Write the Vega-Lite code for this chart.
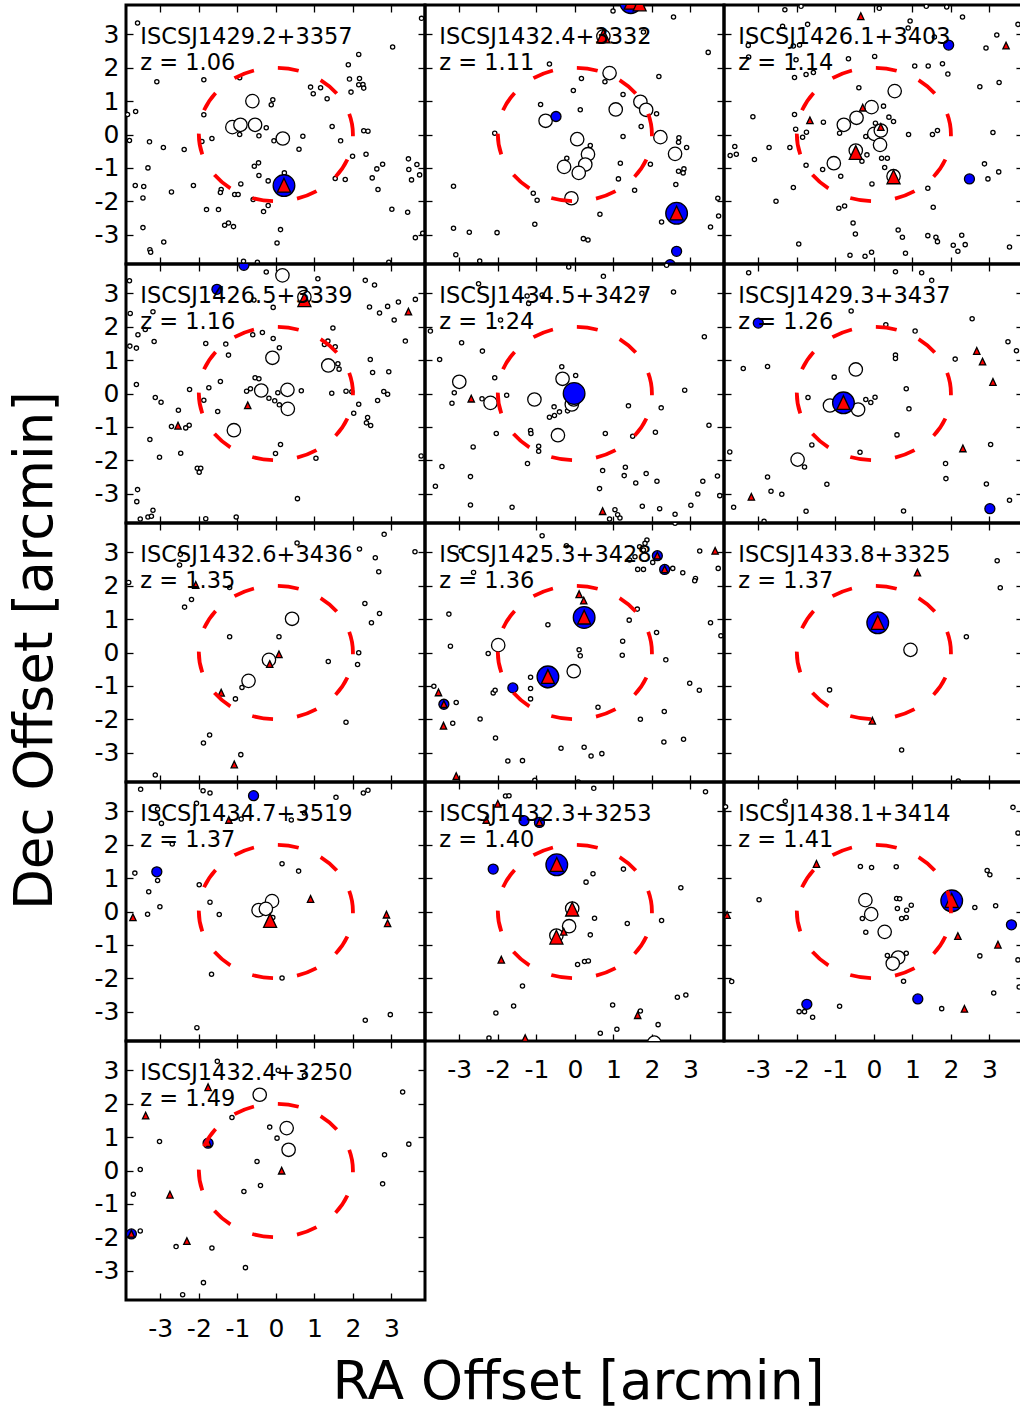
{
"$schema": "https://vega.github.io/schema/vega-lite/v6.json",
"background": "white",
"padding": {"left": 7, "top": 2, "right": 0, "bottom": 0},
"bounds": "flush",
"spacing": 0,
"columns": 3,
"datasets": {
"labels": [
{"p":1,"label":"ISCSJ1429.2+3357\nz = 1.06"},{"p":2,"label":"ISCSJ1432.4+3332\nz = 1.11"},{"p":3,"label":"ISCSJ1426.1+3403\nz = 1.14"},
{"p":4,"label":"ISCSJ1426.5+3339\nz = 1.16"},{"p":5,"label":"ISCSJ1434.5+3427\nz = 1.24"},{"p":6,"label":"ISCSJ1429.3+3437\nz = 1.26"},
{"p":7,"label":"ISCSJ1432.6+3436\nz = 1.35"},{"p":8,"label":"ISCSJ1425.3+3428\nz = 1.36"},{"p":9,"label":"ISCSJ1433.8+3325\nz = 1.37"},
{"p":10,"label":"ISCSJ1434.7+3519\nz = 1.37"},{"p":11,"label":"ISCSJ1432.3+3253\nz = 1.40"},{"p":12,"label":"ISCSJ1438.1+3414\nz = 1.41"},
{"p":13,"label":"ISCSJ1432.4+3250\nz = 1.49"}
],
"pts": [
{"p":1,"t":"1gal","x":-3.59,"y":3.34},{"p":1,"t":"1gal","x":3.78,"y":3.48},{"p":1,"t":"1gal","x":3.03,"y":2.62},{"p":1,"t":"1gal","x":2.15,"y":2.40},{"p":1,"t":"1gal","x":1.88,"y":2.09},{"p":1,"t":"1gal","x":-3.09,"y":1.58},{"p":1,"t":"1gal","x":-1.87,"y":1.64},{"p":1,"t":"1gal","x":-0.94,"y":1.70},{"p":1,"t":"1gal","x":1.91,"y":1.66},{"p":1,"t":"1gal","x":2.17,"y":1.68},
{"p":1,"t":"1gal","x":2.15,"y":1.49},{"p":1,"t":"1gal","x":2.26,"y":1.50},{"p":1,"t":"1gal","x":2.28,"y":1.39},{"p":1,"t":"1gal","x":1.95,"y":1.27},{"p":1,"t":"1gal","x":0.90,"y":1.42},{"p":1,"t":"1gal","x":0.97,"y":1.22},{"p":1,"t":"1gal","x":1.16,"y":1.40},{"p":1,"t":"1gal","x":1.33,"y":1.07},{"p":1,"t":"1gal","x":-0.08,"y":1.04},{"p":1,"t":"1gal","x":-0.12,"y":0.89},
{"p":1,"t":"1gal","x":-1.87,"y":0.59},{"p":1,"t":"1gal","x":-3.85,"y":0.60},{"p":1,"t":"1gal","x":-3.64,"y":0.69},{"p":1,"t":"1gal","x":-0.25,"y":0.20},{"p":1,"t":"1gal","x":-0.94,"y":0.00},{"p":1,"t":"1gal","x":-0.44,"y":-0.04},{"p":1,"t":"1gal","x":1.46,"y":0.24},{"p":1,"t":"1gal","x":2.28,"y":0.11},{"p":1,"t":"1gal","x":2.39,"y":0.10},{"p":1,"t":"1gal","x":-3.80,"y":-0.18},
{"p":1,"t":"1gal","x":-3.28,"y":-0.22},{"p":1,"t":"1gal","x":-2.92,"y":-0.39},{"p":1,"t":"1gal","x":-2.38,"y":-0.45},{"p":1,"t":"1gal","x":-1.92,"y":-0.21},{"p":1,"t":"1gal","x":-1.66,"y":-0.12},{"p":1,"t":"1gal","x":-0.05,"y":-0.19},{"p":1,"t":"1gal","x":0.70,"y":-0.05},{"p":1,"t":"1gal","x":0.60,"y":-0.44},{"p":1,"t":"1gal","x":1.68,"y":-0.19},{"p":1,"t":"1gal","x":1.99,"y":-0.65},
{"p":1,"t":"1gal","x":2.34,"y":-0.59},{"p":1,"t":"1gal","x":3.44,"y":-0.73},{"p":1,"t":"1gal","x":3.66,"y":-0.90},{"p":1,"t":"1gal","x":3.45,"y":-1.05},{"p":1,"t":"1gal","x":3.73,"y":-1.21},{"p":1,"t":"1gal","x":3.52,"y":-1.36},{"p":1,"t":"1gal","x":2.62,"y":-1.03},{"p":1,"t":"1gal","x":2.77,"y":-0.89},{"p":1,"t":"1gal","x":2.50,"y":-1.30},{"p":1,"t":"1gal","x":2.65,"y":-1.65},
{"p":1,"t":"1gal","x":1.54,"y":-1.32},{"p":1,"t":"1gal","x":1.80,"y":-1.35},{"p":1,"t":"1gal","x":-0.45,"y":-0.85},{"p":1,"t":"1gal","x":-0.56,"y":-0.95},{"p":1,"t":"1gal","x":-0.44,"y":-1.23},{"p":1,"t":"1gal","x":-0.20,"y":-1.39},{"p":1,"t":"1gal","x":0.22,"y":-1.15},{"p":1,"t":"1gal","x":-0.91,"y":-1.48},{"p":1,"t":"1gal","x":-1.42,"y":-1.65},{"p":1,"t":"1gal","x":-1.44,"y":-1.74},
{"p":1,"t":"1gal","x":-1.07,"y":-1.80},{"p":1,"t":"1gal","x":-0.98,"y":-1.80},{"p":1,"t":"1gal","x":-2.14,"y":-1.53},{"p":1,"t":"1gal","x":-2.71,"y":-1.72},{"p":1,"t":"1gal","x":-3.43,"y":-1.56},{"p":1,"t":"1gal","x":-3.65,"y":-1.53},{"p":1,"t":"1gal","x":-3.32,"y":-1.00},{"p":1,"t":"1gal","x":-3.45,"y":-1.90},{"p":1,"t":"1gal","x":-0.59,"y":-1.95},{"p":1,"t":"1gal","x":-0.20,"y":-2.13},
{"p":1,"t":"1gal","x":-0.32,"y":-2.31},{"p":1,"t":"1gal","x":-1.80,"y":-2.25},{"p":1,"t":"1gal","x":-1.49,"y":-2.25},{"p":1,"t":"1gal","x":-1.33,"y":-2.72},{"p":1,"t":"1gal","x":-1.23,"y":-2.65},{"p":1,"t":"1gal","x":-1.10,"y":-2.76},{"p":1,"t":"1gal","x":-3.45,"y":-2.79},{"p":1,"t":"1gal","x":-2.91,"y":-3.22},{"p":1,"t":"1gal","x":-3.27,"y":-3.45},{"p":1,"t":"1gal","x":-3.25,"y":-3.53},
{"p":1,"t":"1gal","x":0.12,"y":-2.85},{"p":1,"t":"1gal","x":0.03,"y":-3.25},{"p":1,"t":"1gal","x":3.01,"y":-2.24},{"p":1,"t":"1gal","x":3.42,"y":-2.33},{"p":1,"t":"1gal","x":3.81,"y":-2.96},{"p":1,"t":"1gal","x":3.62,"y":-3.09},{"p":1,"t":"1gal","x":-0.84,"y":-3.80},{"p":1,"t":"1gal","x":-0.48,"y":-3.83},{"p":1,"t":"1gal","x":2.93,"y":-3.83},
{"p":1,"t":"2mem","x":-0.61,"y":1.00},{"p":1,"t":"2mem","x":-1.13,"y":0.22},{"p":1,"t":"2mem","x":-0.92,"y":0.29},{"p":1,"t":"2mem","x":-0.54,"y":0.29},{"p":1,"t":"2mem","x":0.18,"y":-0.12},
{"p":1,"t":"4Blue","x":0.21,"y":-1.53},{"p":1,"t":"6Tri","x":0.21,"y":-1.53},

{"p":2,"t":"1gal","x":0.99,"y":3.70},{"p":2,"t":"1gal","x":2.56,"y":3.52},{"p":2,"t":"1gal","x":3.46,"y":2.46},{"p":2,"t":"1gal","x":-0.66,"y":2.11},{"p":2,"t":"1gal","x":0.17,"y":1.68},{"p":2,"t":"1gal","x":0.78,"y":1.58},{"p":2,"t":"1gal","x":2.18,"y":1.74},{"p":2,"t":"1gal","x":-0.04,"y":1.32},{"p":2,"t":"1gal","x":1.25,"y":1.20},{"p":2,"t":"1gal","x":-0.89,"y":0.90},
{"p":2,"t":"1gal","x":0.14,"y":0.74},{"p":2,"t":"1gal","x":2.12,"y":0.62},{"p":2,"t":"1gal","x":1.72,"y":0.24},{"p":2,"t":"1gal","x":-2.08,"y":0.04},{"p":2,"t":"1gal","x":1.25,"y":-0.06},{"p":2,"t":"1gal","x":2.70,"y":-0.10},{"p":2,"t":"1gal","x":2.69,"y":-0.23},{"p":2,"t":"1gal","x":2.90,"y":-0.39},{"p":2,"t":"1gal","x":0.40,"y":-0.33},{"p":2,"t":"1gal","x":-0.21,"y":-0.71},
{"p":2,"t":"1gal","x":1.18,"y":-0.86},{"p":2,"t":"1gal","x":1.96,"y":-0.89},{"p":2,"t":"1gal","x":2.69,"y":-1.10},{"p":2,"t":"1gal","x":2.83,"y":-1.03},{"p":2,"t":"1gal","x":2.81,"y":-1.15},{"p":2,"t":"1gal","x":1.13,"y":-1.33},{"p":2,"t":"1gal","x":2.62,"y":-1.50},{"p":2,"t":"1gal","x":1.55,"y":-1.67},{"p":2,"t":"1gal","x":-1.08,"y":-1.76},{"p":2,"t":"1gal","x":-0.98,"y":-1.97},
{"p":2,"t":"1gal","x":3.71,"y":-1.91},{"p":2,"t":"1gal","x":3.73,"y":-2.44},{"p":2,"t":"1gal","x":-3.15,"y":-1.55},{"p":2,"t":"1gal","x":0.65,"y":-2.39},{"p":2,"t":"1gal","x":2.25,"y":-2.62},{"p":2,"t":"1gal","x":3.52,"y":-2.77},{"p":2,"t":"1gal","x":-1.04,"y":-2.69},{"p":2,"t":"1gal","x":-3.15,"y":-2.81},{"p":2,"t":"1gal","x":-2.74,"y":-2.93},{"p":2,"t":"1gal","x":-2.02,"y":-2.94},
{"p":2,"t":"1gal","x":0.22,"y":-3.12},{"p":2,"t":"1gal","x":0.34,"y":-3.16},{"p":2,"t":"1gal","x":-3.09,"y":-3.60},{"p":2,"t":"1gal","x":-2.47,"y":-3.79},{"p":2,"t":"1gal","x":1.78,"y":3.07},
{"p":2,"t":"2mem","x":0.90,"y":1.84},{"p":2,"t":"2mem","x":1.70,"y":0.98},{"p":2,"t":"2mem","x":1.85,"y":0.74},{"p":2,"t":"2mem","x":1.06,"y":0.75},{"p":2,"t":"2mem","x":-0.76,"y":0.41},{"p":2,"t":"2mem","x":0.06,"y":-0.14},{"p":2,"t":"2mem","x":0.34,"y":-0.59},{"p":2,"t":"2mem","x":0.27,"y":-0.90},{"p":2,"t":"2mem","x":-0.28,"y":-0.97},{"p":2,"t":"2mem","x":0.10,"y":-1.15},
{"p":2,"t":"2mem","x":2.22,"y":-0.08},{"p":2,"t":"2mem","x":2.60,"y":-0.58},{"p":2,"t":"2mem","x":-0.09,"y":-1.91},{"p":2,"t":"2mem","x":0.74,"y":2.94},
{"p":2,"t":"3blue","x":-0.49,"y":0.54},{"p":2,"t":"3blue","x":2.64,"y":-3.50},{"p":2,"t":"3blue","x":2.47,"y":-3.90},
{"p":2,"t":"4Blue","x":2.64,"y":-2.36},{"p":2,"t":"4Blue","x":1.45,"y":3.95},
{"p":2,"t":"6Tri","x":2.64,"y":-2.36},{"p":2,"t":"6Tri","x":1.45,"y":3.95},{"p":2,"t":"6Tri","x":1.68,"y":3.90},{"p":2,"t":"6Tri","x":0.74,"y":2.94},

{"p":3,"t":"1gal","x":-2.31,"y":3.74},{"p":3,"t":"1gal","x":-1.89,"y":3.84},{"p":3,"t":"1gal","x":0.14,"y":3.78},{"p":3,"t":"1gal","x":1.36,"y":3.84},{"p":3,"t":"1gal","x":1.89,"y":3.82},{"p":3,"t":"1gal","x":2.30,"y":3.52},{"p":3,"t":"1gal","x":3.74,"y":3.30},{"p":3,"t":"1gal","x":0.94,"y":3.40},{"p":3,"t":"1gal","x":0.89,"y":3.19},{"p":3,"t":"1gal","x":-2.37,"y":3.24},
{"p":3,"t":"1gal","x":-1.72,"y":3.30},{"p":3,"t":"1gal","x":-3.26,"y":2.67},{"p":3,"t":"1gal","x":-2.09,"y":2.65},{"p":3,"t":"1gal","x":-1.93,"y":2.68},{"p":3,"t":"1gal","x":-3.25,"y":2.32},{"p":3,"t":"1gal","x":-2.02,"y":2.24},{"p":3,"t":"1gal","x":-0.66,"y":2.27},{"p":3,"t":"1gal","x":0.02,"y":2.34},{"p":3,"t":"1gal","x":1.57,"y":2.92},{"p":3,"t":"1gal","x":3.19,"y":2.98},
{"p":3,"t":"1gal","x":2.91,"y":2.59},{"p":3,"t":"1gal","x":1.06,"y":2.05},{"p":3,"t":"1gal","x":1.41,"y":2.05},{"p":3,"t":"1gal","x":1.78,"y":2.12},{"p":3,"t":"1gal","x":1.92,"y":1.81},{"p":3,"t":"1gal","x":-2.06,"y":1.71},{"p":3,"t":"1gal","x":-1.76,"y":1.80},{"p":3,"t":"1gal","x":-1.57,"y":1.86},{"p":3,"t":"1gal","x":-0.39,"y":1.40},{"p":3,"t":"1gal","x":2.75,"y":1.43},
{"p":3,"t":"1gal","x":3.25,"y":1.56},{"p":3,"t":"1gal","x":0.25,"y":0.85},{"p":3,"t":"1gal","x":-2.06,"y":0.60},{"p":3,"t":"1gal","x":-3.14,"y":0.53},{"p":3,"t":"1gal","x":-1.31,"y":0.37},{"p":3,"t":"1gal","x":-2.03,"y":0.16},{"p":3,"t":"1gal","x":-1.75,"y":0.07},{"p":3,"t":"1gal","x":-1.85,"y":-0.08},{"p":3,"t":"1gal","x":-0.89,"y":0.04},{"p":3,"t":"1gal","x":0.39,"y":0.52},
{"p":3,"t":"1gal","x":0.51,"y":0.39},{"p":3,"t":"1gal","x":0.04,"y":0.34},{"p":3,"t":"1gal","x":-0.21,"y":-0.06},{"p":3,"t":"1gal","x":0.90,"y":0.00},{"p":3,"t":"1gal","x":1.52,"y":0.00},{"p":3,"t":"1gal","x":1.65,"y":0.12},{"p":3,"t":"1gal","x":3.09,"y":0.06},{"p":3,"t":"1gal","x":-2.72,"y":-0.39},{"p":3,"t":"1gal","x":-2.18,"y":-0.39},{"p":3,"t":"1gal","x":-3.61,"y":-0.36},
{"p":3,"t":"1gal","x":-3.57,"y":-0.59},{"p":3,"t":"1gal","x":-3.73,"y":-0.63},{"p":3,"t":"1gal","x":-3.10,"y":-0.75},{"p":3,"t":"1gal","x":-1.76,"y":-0.92},{"p":3,"t":"1gal","x":-1.33,"y":-1.05},{"p":3,"t":"1gal","x":-0.86,"y":-1.25},{"p":3,"t":"1gal","x":-0.18,"y":-0.61},{"p":3,"t":"1gal","x":-0.31,"y":-0.80},{"p":3,"t":"1gal","x":0.20,"y":-0.71},{"p":3,"t":"1gal","x":0.35,"y":-0.71},
{"p":3,"t":"1gal","x":0.28,"y":-0.99},{"p":3,"t":"1gal","x":-0.05,"y":-1.48},{"p":3,"t":"1gal","x":1.40,"y":-1.61},{"p":3,"t":"1gal","x":2.87,"y":-0.88},{"p":3,"t":"1gal","x":3.24,"y":-1.12},{"p":3,"t":"1gal","x":2.96,"y":-1.33},{"p":3,"t":"1gal","x":-2.09,"y":-1.59},{"p":3,"t":"1gal","x":-2.54,"y":-2.00},{"p":3,"t":"1gal","x":-0.91,"y":-2.21},{"p":3,"t":"1gal","x":-0.76,"y":-2.14},
{"p":3,"t":"1gal","x":1.54,"y":-2.18},{"p":3,"t":"1gal","x":-0.54,"y":-2.65},{"p":3,"t":"1gal","x":-0.48,"y":-2.98},{"p":3,"t":"1gal","x":0.63,"y":-2.86},{"p":3,"t":"1gal","x":0.74,"y":-3.08},{"p":3,"t":"1gal","x":1.40,"y":-3.03},{"p":3,"t":"1gal","x":1.61,"y":-3.08},{"p":3,"t":"1gal","x":1.65,"y":-3.21},{"p":3,"t":"1gal","x":2.28,"y":-3.02},{"p":3,"t":"1gal","x":2.06,"y":-3.32},
{"p":3,"t":"1gal","x":2.18,"y":-3.50},{"p":3,"t":"1gal","x":2.37,"y":-3.30},{"p":3,"t":"1gal","x":3.52,"y":-3.37},{"p":3,"t":"1gal","x":-1.95,"y":-3.28},{"p":3,"t":"1gal","x":-0.62,"y":-3.62},{"p":3,"t":"1gal","x":-0.23,"y":-3.65},{"p":3,"t":"1gal","x":-0.06,"y":-3.53},{"p":3,"t":"1gal","x":0.82,"y":-3.56},
{"p":3,"t":"2mem","x":0.54,"y":1.30},{"p":3,"t":"2mem","x":-0.06,"y":0.82},{"p":3,"t":"2mem","x":-0.45,"y":0.50},{"p":3,"t":"2mem","x":-0.78,"y":0.29},{"p":3,"t":"2mem","x":0.01,"y":0.02},{"p":3,"t":"2mem","x":0.18,"y":0.12},{"p":3,"t":"2mem","x":0.16,"y":-0.31},{"p":3,"t":"2mem","x":-1.04,"y":-0.86},{"p":3,"t":"2mem","x":-0.47,"y":-0.48},{"p":3,"t":"2mem","x":0.51,"y":-1.25},
{"p":3,"t":"5tri","x":-0.34,"y":3.54},{"p":3,"t":"5tri","x":3.43,"y":2.66},{"p":3,"t":"5tri","x":-1.66,"y":0.42},{"p":3,"t":"5tri","x":-0.29,"y":0.80},{"p":3,"t":"5tri","x":0.18,"y":0.22},
{"p":3,"t":"6Tri","x":-0.47,"y":-0.55},{"p":3,"t":"6Tri","x":0.51,"y":-1.28},
{"p":3,"t":"3blue","x":1.94,"y":2.68},{"p":3,"t":"3blue","x":2.48,"y":-1.33},

{"p":4,"t":"1gal","x":-3.80,"y":3.38},{"p":4,"t":"1gal","x":-0.25,"y":3.64},{"p":4,"t":"1gal","x":1.09,"y":3.44},{"p":4,"t":"1gal","x":2.32,"y":3.39},{"p":4,"t":"1gal","x":2.56,"y":3.25},{"p":4,"t":"1gal","x":-0.57,"y":2.80},{"p":4,"t":"1gal","x":-0.07,"y":2.58},{"p":4,"t":"1gal","x":-3.78,"y":2.40},{"p":4,"t":"1gal","x":-3.19,"y":2.45},{"p":4,"t":"1gal","x":2.43,"y":2.59},
{"p":4,"t":"1gal","x":2.69,"y":2.41},{"p":4,"t":"1gal","x":2.90,"y":2.61},{"p":4,"t":"1gal","x":3.18,"y":2.74},{"p":4,"t":"1gal","x":3.62,"y":2.82},{"p":4,"t":"1gal","x":3.07,"y":2.20},{"p":4,"t":"1gal","x":-3.58,"y":1.76},{"p":4,"t":"1gal","x":-3.39,"y":1.92},{"p":4,"t":"1gal","x":-3.16,"y":1.56},{"p":4,"t":"1gal","x":-3.79,"y":1.42},{"p":4,"t":"1gal","x":-3.62,"y":1.36},
{"p":4,"t":"1gal","x":-1.82,"y":1.50},{"p":4,"t":"1gal","x":-1.30,"y":1.48},{"p":4,"t":"1gal","x":-0.60,"y":1.76},{"p":4,"t":"1gal","x":-0.35,"y":1.83},{"p":4,"t":"1gal","x":-0.07,"y":1.65},{"p":4,"t":"1gal","x":0.09,"y":1.37},{"p":4,"t":"1gal","x":-1.23,"y":1.15},{"p":4,"t":"1gal","x":1.48,"y":1.96},{"p":4,"t":"1gal","x":1.35,"y":1.57},{"p":4,"t":"1gal","x":1.26,"y":1.47},
{"p":4,"t":"1gal","x":1.54,"y":1.40},{"p":4,"t":"1gal","x":3.36,"y":1.57},{"p":4,"t":"1gal","x":2.45,"y":1.02},{"p":4,"t":"1gal","x":1.61,"y":0.89},{"p":4,"t":"1gal","x":1.64,"y":0.73},{"p":4,"t":"1gal","x":2.51,"y":0.63},{"p":4,"t":"1gal","x":2.93,"y":0.65},{"p":4,"t":"1gal","x":-3.62,"y":0.27},{"p":4,"t":"1gal","x":-1.44,"y":0.36},{"p":4,"t":"1gal","x":-1.74,"y":0.17},
{"p":4,"t":"1gal","x":-2.24,"y":0.12},{"p":4,"t":"1gal","x":-0.54,"y":0.47},{"p":4,"t":"1gal","x":-0.44,"y":0.44},{"p":4,"t":"1gal","x":-0.76,"y":0.07},{"p":4,"t":"1gal","x":-0.66,"y":0.14},{"p":4,"t":"1gal","x":0.05,"y":0.02},{"p":4,"t":"1gal","x":-0.18,"y":-0.14},{"p":4,"t":"1gal","x":-0.03,"y":-0.22},{"p":4,"t":"1gal","x":0.09,"y":-0.34},{"p":4,"t":"1gal","x":0.66,"y":0.08},
{"p":4,"t":"1gal","x":1.45,"y":0.01},{"p":4,"t":"1gal","x":1.82,"y":0.07},{"p":4,"t":"1gal","x":1.97,"y":0.05},{"p":4,"t":"1gal","x":2.80,"y":0.06},{"p":4,"t":"1gal","x":2.90,"y":-0.02},{"p":4,"t":"1gal","x":-1.87,"y":-0.20},{"p":4,"t":"1gal","x":-3.13,"y":-0.12},{"p":4,"t":"1gal","x":-2.98,"y":-0.26},{"p":4,"t":"1gal","x":-2.53,"y":-0.50},{"p":4,"t":"1gal","x":-1.51,"y":-0.54},
{"p":4,"t":"1gal","x":2.15,"y":-0.32},{"p":4,"t":"1gal","x":2.02,"y":-0.59},{"p":4,"t":"1gal","x":2.64,"y":-0.21},{"p":4,"t":"1gal","x":2.38,"y":-0.72},{"p":4,"t":"1gal","x":2.35,"y":-0.88},{"p":4,"t":"1gal","x":2.46,"y":-0.96},{"p":4,"t":"1gal","x":-2.25,"y":-0.95},{"p":4,"t":"1gal","x":-2.34,"y":-1.03},{"p":4,"t":"1gal","x":-2.71,"y":-0.99},{"p":4,"t":"1gal","x":-3.27,"y":-1.38},
{"p":4,"t":"1gal","x":-3.02,"y":-1.91},{"p":4,"t":"1gal","x":-2.47,"y":-1.79},{"p":4,"t":"1gal","x":0.12,"y":-1.53},{"p":4,"t":"1gal","x":-0.01,"y":-1.80},{"p":4,"t":"1gal","x":1.04,"y":-1.94},{"p":4,"t":"1gal","x":-2.04,"y":-2.24},{"p":4,"t":"1gal","x":-1.95,"y":-2.24},{"p":4,"t":"1gal","x":-1.99,"y":-2.36},{"p":4,"t":"1gal","x":3.77,"y":-1.87},{"p":4,"t":"1gal","x":-3.59,"y":-2.88},
{"p":4,"t":"1gal","x":-3.61,"y":-3.24},{"p":4,"t":"1gal","x":-3.19,"y":-3.50},{"p":4,"t":"1gal","x":-3.32,"y":-3.70},{"p":4,"t":"1gal","x":-3.23,"y":-3.68},{"p":4,"t":"1gal","x":-3.52,"y":-3.76},{"p":4,"t":"1gal","x":-1.82,"y":-3.75},{"p":4,"t":"1gal","x":-1.03,"y":-3.70},{"p":4,"t":"1gal","x":0.56,"y":-3.15},
{"p":4,"t":"2mem","x":0.17,"y":3.54},{"p":4,"t":"2mem","x":-0.09,"y":1.07},{"p":4,"t":"2mem","x":1.36,"y":0.84},{"p":4,"t":"2mem","x":-0.38,"y":0.09},{"p":4,"t":"2mem","x":0.30,"y":0.11},{"p":4,"t":"2mem","x":0.31,"y":-0.46},{"p":4,"t":"2mem","x":-1.09,"y":-1.10},{"p":4,"t":"2mem","x":0.74,"y":2.89},
{"p":4,"t":"6Tri","x":0.74,"y":2.80},
{"p":4,"t":"5tri","x":3.44,"y":2.45},{"p":4,"t":"5tri","x":-0.73,"y":-0.36},{"p":4,"t":"5tri","x":-2.54,"y":-0.97},
{"p":4,"t":"3blue","x":-1.53,"y":3.12},{"p":4,"t":"3blue","x":-0.83,"y":3.84},

{"p":5,"t":"1gal","x":-0.16,"y":3.79},{"p":5,"t":"1gal","x":0.74,"y":3.51},{"p":5,"t":"1gal","x":2.38,"y":3.84},{"p":5,"t":"1gal","x":-2.50,"y":3.29},{"p":5,"t":"1gal","x":2.56,"y":3.04},{"p":5,"t":"1gal","x":1.74,"y":3.00},{"p":5,"t":"1gal","x":-1.24,"y":2.92},{"p":5,"t":"1gal","x":-0.85,"y":2.95},{"p":5,"t":"1gal","x":-1.20,"y":2.70},{"p":5,"t":"1gal","x":-1.93,"y":2.20},
{"p":5,"t":"1gal","x":-3.75,"y":1.87},{"p":5,"t":"1gal","x":-2.94,"y":1.52},{"p":5,"t":"1gal","x":-2.40,"y":1.27},{"p":5,"t":"1gal","x":3.36,"y":1.70},{"p":5,"t":"1gal","x":-3.51,"y":1.02},{"p":5,"t":"1gal","x":-0.34,"y":0.80},{"p":5,"t":"1gal","x":0.02,"y":0.54},{"p":5,"t":"1gal","x":-2.08,"y":0.47},{"p":5,"t":"1gal","x":-3.13,"y":0.02},{"p":5,"t":"1gal","x":-3.19,"y":-0.29},
{"p":5,"t":"1gal","x":-2.41,"y":-0.16},{"p":5,"t":"1gal","x":-1.77,"y":-0.05},{"p":5,"t":"1gal","x":-0.54,"y":-0.40},{"p":5,"t":"1gal","x":-0.66,"y":-0.71},{"p":5,"t":"1gal","x":-0.53,"y":-0.66},{"p":5,"t":"1gal","x":-0.40,"y":-0.55},{"p":5,"t":"1gal","x":-0.19,"y":-0.52},{"p":5,"t":"1gal","x":1.39,"y":-0.37},{"p":5,"t":"1gal","x":2.24,"y":-0.43},{"p":5,"t":"1gal","x":2.85,"y":0.10},
{"p":5,"t":"1gal","x":3.48,"y":-0.95},{"p":5,"t":"1gal","x":-2.04,"y":-1.20},{"p":5,"t":"1gal","x":-1.15,"y":-1.11},{"p":5,"t":"1gal","x":-1.14,"y":-1.20},{"p":5,"t":"1gal","x":0.79,"y":-1.20},{"p":5,"t":"1gal","x":1.50,"y":-1.28},{"p":5,"t":"1gal","x":2.09,"y":-1.16},{"p":5,"t":"1gal","x":-2.64,"y":-1.60},{"p":5,"t":"1gal","x":-0.94,"y":-1.58},{"p":5,"t":"1gal","x":-0.94,"y":-1.73},
{"p":5,"t":"1gal","x":-1.23,"y":-2.10},{"p":5,"t":"1gal","x":-3.45,"y":-2.19},{"p":5,"t":"1gal","x":0.72,"y":-2.31},{"p":5,"t":"1gal","x":1.31,"y":-2.21},{"p":5,"t":"1gal","x":1.28,"y":-2.46},{"p":5,"t":"1gal","x":1.85,"y":-2.40},{"p":5,"t":"1gal","x":1.58,"y":-2.68},{"p":5,"t":"1gal","x":2.13,"y":-2.63},{"p":5,"t":"1gal","x":-2.71,"y":-2.49},{"p":5,"t":"1gal","x":-3.62,"y":-2.78},
{"p":5,"t":"1gal","x":0.64,"y":-2.85},{"p":5,"t":"1gal","x":3.32,"y":-2.63},{"p":5,"t":"1gal","x":3.70,"y":-2.47},{"p":5,"t":"1gal","x":3.19,"y":-3.01},{"p":5,"t":"1gal","x":3.76,"y":-3.06},{"p":5,"t":"1gal","x":-2.71,"y":-3.34},{"p":5,"t":"1gal","x":-1.63,"y":-3.41},{"p":5,"t":"1gal","x":1.75,"y":-3.38},{"p":5,"t":"1gal","x":2.20,"y":-3.45},{"p":5,"t":"1gal","x":3.01,"y":-3.35},
{"p":5,"t":"1gal","x":2.60,"y":-3.62},{"p":5,"t":"1gal","x":1.04,"y":-3.48},{"p":5,"t":"1gal","x":1.11,"y":-3.63},{"p":5,"t":"1gal","x":1.17,"y":-3.73},{"p":5,"t":"1gal","x":0.90,"y":-3.76},
{"p":5,"t":"2mem","x":-3.00,"y":0.35},{"p":5,"t":"2mem","x":-2.19,"y":-0.28},{"p":5,"t":"2mem","x":-1.05,"y":-0.18},{"p":5,"t":"2mem","x":-0.32,"y":0.44},{"p":5,"t":"2mem","x":-0.44,"y":-1.25},{"p":5,"t":"2mem","x":-0.08,"y":-0.33},{"p":5,"t":"2mem","x":-0.03,"y":-0.18},
{"p":5,"t":"4Blue","x":-0.02,"y":0.00},
{"p":5,"t":"5tri","x":-2.69,"y":-0.16},{"p":5,"t":"5tri","x":0.72,"y":-3.53},

{"p":6,"t":"1gal","x":-3.25,"y":3.62},{"p":6,"t":"1gal","x":0.56,"y":3.65},{"p":6,"t":"1gal","x":1.24,"y":3.62},{"p":6,"t":"1gal","x":1.50,"y":3.39},{"p":6,"t":"1gal","x":-0.59,"y":2.47},{"p":6,"t":"1gal","x":0.31,"y":2.06},{"p":6,"t":"1gal","x":1.07,"y":1.87},{"p":6,"t":"1gal","x":2.55,"y":2.24},{"p":6,"t":"1gal","x":3.48,"y":1.55},{"p":6,"t":"1gal","x":3.70,"y":1.28},
{"p":6,"t":"1gal","x":0.56,"y":1.15},{"p":6,"t":"1gal","x":0.56,"y":1.05},{"p":6,"t":"1gal","x":2.11,"y":1.03},{"p":6,"t":"1gal","x":-3.39,"y":0.75},{"p":6,"t":"1gal","x":-2.76,"y":0.81},{"p":6,"t":"1gal","x":-1.03,"y":0.49},{"p":6,"t":"1gal","x":0.84,"y":0.14},{"p":6,"t":"1gal","x":-1.71,"y":-0.12},{"p":6,"t":"1gal","x":-0.21,"y":-0.18},{"p":6,"t":"1gal","x":-0.08,"y":-0.27},
{"p":6,"t":"1gal","x":0.03,"y":-0.11},{"p":6,"t":"1gal","x":0.91,"y":-0.46},{"p":6,"t":"1gal","x":0.60,"y":-1.24},{"p":6,"t":"1gal","x":-1.61,"y":-1.54},{"p":6,"t":"1gal","x":-3.74,"y":-1.75},{"p":6,"t":"1gal","x":-0.36,"y":-1.76},{"p":6,"t":"1gal","x":3.03,"y":-1.53},{"p":6,"t":"1gal","x":-1.80,"y":-2.20},{"p":6,"t":"1gal","x":1.86,"y":-2.10},{"p":6,"t":"1gal","x":1.87,"y":-2.55},
{"p":6,"t":"1gal","x":-2.76,"y":-2.50},{"p":6,"t":"1gal","x":-2.67,"y":-2.93},{"p":6,"t":"1gal","x":-2.39,"y":-3.02},{"p":6,"t":"1gal","x":-1.22,"y":-2.72},{"p":6,"t":"1gal","x":2.92,"y":-2.71},{"p":6,"t":"1gal","x":-3.64,"y":-3.41},{"p":6,"t":"1gal","x":-1.76,"y":-3.53},{"p":6,"t":"1gal","x":0.77,"y":-3.52},{"p":6,"t":"1gal","x":3.52,"y":-3.20},{"p":6,"t":"1gal","x":-2.85,"y":-3.83},
{"p":6,"t":"2mem","x":-0.47,"y":0.72},{"p":6,"t":"2mem","x":-1.14,"y":-0.36},{"p":6,"t":"2mem","x":-0.41,"y":-0.48},{"p":6,"t":"2mem","x":-1.98,"y":-1.98},{"p":6,"t":"2mem","x":-0.79,"y":-0.28},
{"p":6,"t":"4Blue","x":-0.79,"y":-0.28},{"p":6,"t":"6Tri","x":-0.79,"y":-0.28},
{"p":6,"t":"3blue","x":-3.00,"y":2.11},{"p":6,"t":"3blue","x":3.01,"y":-3.45},
{"p":6,"t":"5tri","x":2.67,"y":1.27},{"p":6,"t":"5tri","x":2.82,"y":0.95},{"p":6,"t":"5tri","x":3.09,"y":0.34},{"p":6,"t":"5tri","x":2.31,"y":-1.65},{"p":6,"t":"5tri","x":-3.18,"y":-3.10},

{"p":7,"t":"1gal","x":-2.48,"y":2.94},{"p":7,"t":"1gal","x":-2.50,"y":2.62},{"p":7,"t":"1gal","x":-3.82,"y":2.10},{"p":7,"t":"1gal","x":-1.20,"y":1.95},{"p":7,"t":"1gal","x":0.55,"y":3.28},{"p":7,"t":"1gal","x":2.17,"y":3.10},{"p":7,"t":"1gal","x":2.81,"y":3.54},{"p":7,"t":"1gal","x":2.58,"y":2.84},{"p":7,"t":"1gal","x":2.67,"y":2.42},{"p":7,"t":"1gal","x":3.61,"y":3.02},
{"p":7,"t":"1gal","x":-2.19,"y":1.59},{"p":7,"t":"1gal","x":-2.37,"y":1.36},{"p":7,"t":"1gal","x":2.31,"y":1.47},{"p":7,"t":"1gal","x":2.69,"y":1.17},{"p":7,"t":"1gal","x":2.48,"y":0.89},{"p":7,"t":"1gal","x":-1.20,"y":0.47},{"p":7,"t":"1gal","x":0.08,"y":0.47},{"p":7,"t":"1gal","x":1.36,"y":-0.27},{"p":7,"t":"1gal","x":2.15,"y":-0.01},{"p":7,"t":"1gal","x":2.12,"y":-0.36},
{"p":7,"t":"1gal","x":-0.88,"y":-1.05},{"p":7,"t":"1gal","x":-1.05,"y":-1.39},{"p":7,"t":"1gal","x":1.82,"y":-2.09},{"p":7,"t":"1gal","x":-1.72,"y":-2.47},{"p":7,"t":"1gal","x":-1.88,"y":-2.71},{"p":7,"t":"1gal","x":-0.91,"y":-3.06},{"p":7,"t":"1gal","x":-3.13,"y":-3.67},
{"p":7,"t":"2mem","x":0.42,"y":1.01},{"p":7,"t":"2mem","x":-0.18,"y":-0.22},{"p":7,"t":"2mem","x":-0.71,"y":-0.85},
{"p":7,"t":"5tri","x":-2.08,"y":2.02},{"p":7,"t":"5tri","x":0.08,"y":-0.06},{"p":7,"t":"5tri","x":-0.16,"y":-0.35},{"p":7,"t":"5tri","x":-1.42,"y":-1.21},{"p":7,"t":"5tri","x":-1.08,"y":-3.36},

{"p":8,"t":"1gal","x":-0.85,"y":3.50},{"p":8,"t":"1gal","x":-0.22,"y":3.20},{"p":8,"t":"1gal","x":-2.95,"y":3.04},{"p":8,"t":"1gal","x":-1.17,"y":2.77},{"p":8,"t":"1gal","x":-2.63,"y":2.40},{"p":8,"t":"1gal","x":1.87,"y":3.37},{"p":8,"t":"1gal","x":1.82,"y":3.27},{"p":8,"t":"1gal","x":1.68,"y":3.17},{"p":8,"t":"1gal","x":1.78,"y":3.07},{"p":8,"t":"1gal","x":1.56,"y":2.87},
{"p":8,"t":"1gal","x":1.42,"y":2.77},{"p":8,"t":"1gal","x":2.02,"y":2.70},{"p":8,"t":"1gal","x":1.63,"y":2.49},{"p":8,"t":"1gal","x":1.78,"y":2.49},{"p":8,"t":"1gal","x":2.54,"y":2.52},{"p":8,"t":"1gal","x":2.80,"y":2.39},{"p":8,"t":"1gal","x":3.13,"y":2.22},{"p":8,"t":"1gal","x":3.11,"y":2.15},{"p":8,"t":"1gal","x":3.24,"y":3.04},{"p":8,"t":"1gal","x":3.72,"y":2.52},
{"p":8,"t":"1gal","x":2.60,"y":3.87},{"p":8,"t":"1gal","x":-3.27,"y":1.15},{"p":8,"t":"1gal","x":-0.70,"y":0.83},{"p":8,"t":"1gal","x":1.62,"y":1.30},{"p":8,"t":"1gal","x":1.41,"y":0.97},{"p":8,"t":"1gal","x":2.12,"y":0.60},{"p":8,"t":"1gal","x":1.24,"y":0.34},{"p":8,"t":"1gal","x":1.23,"y":-0.08},{"p":8,"t":"1gal","x":0.11,"y":0.08},{"p":8,"t":"1gal","x":0.14,"y":-0.10},
{"p":8,"t":"1gal","x":-3.23,"y":0.19},{"p":8,"t":"1gal","x":-2.25,"y":-0.03},{"p":8,"t":"1gal","x":2.36,"y":-0.22},{"p":8,"t":"1gal","x":3.52,"y":0.89},{"p":8,"t":"1gal","x":3.79,"y":0.50},{"p":8,"t":"1gal","x":-1.15,"y":-0.74},{"p":8,"t":"1gal","x":-1.15,"y":-1.08},{"p":8,"t":"1gal","x":-1.15,"y":-1.39},{"p":8,"t":"1gal","x":-2.12,"y":-1.21},{"p":8,"t":"1gal","x":-2.07,"y":-1.13},
{"p":8,"t":"1gal","x":-3.08,"y":-1.50},{"p":8,"t":"1gal","x":-3.66,"y":-1.01},{"p":8,"t":"1gal","x":-3.17,"y":-2.12},{"p":8,"t":"1gal","x":0.60,"y":-1.64},{"p":8,"t":"1gal","x":-2.46,"y":-1.99},{"p":8,"t":"1gal","x":-2.06,"y":-2.56},{"p":8,"t":"1gal","x":2.32,"y":-1.77},{"p":8,"t":"1gal","x":2.98,"y":-0.92},{"p":8,"t":"1gal","x":3.23,"y":-1.13},{"p":8,"t":"1gal","x":1.70,"y":-2.00},
{"p":8,"t":"1gal","x":2.31,"y":-2.68},{"p":8,"t":"1gal","x":2.82,"y":-2.60},{"p":8,"t":"1gal","x":-0.36,"y":-2.87},{"p":8,"t":"1gal","x":0.24,"y":-2.84},{"p":8,"t":"1gal","x":0.42,"y":-3.10},{"p":8,"t":"1gal","x":0.70,"y":-3.03},{"p":8,"t":"1gal","x":-1.74,"y":-3.25},{"p":8,"t":"1gal","x":-1.36,"y":-3.24},{"p":8,"t":"1gal","x":-1.04,"y":-3.83},{"p":8,"t":"1gal","x":0.09,"y":-3.88},
{"p":8,"t":"2mem","x":-1.99,"y":0.22},{"p":8,"t":"2mem","x":-0.03,"y":-0.56},{"p":8,"t":"2mem","x":-0.71,"y":-0.86},
{"p":8,"t":"4Blue","x":0.24,"y":1.05},{"p":8,"t":"4Blue","x":-0.70,"y":-0.73},
{"p":8,"t":"6Tri","x":0.24,"y":1.05},{"p":8,"t":"6Tri","x":-0.70,"y":-0.73},
{"p":8,"t":"3blue","x":2.14,"y":2.90},{"p":8,"t":"3blue","x":2.33,"y":2.49},{"p":8,"t":"3blue","x":-3.40,"y":-1.55},{"p":8,"t":"3blue","x":-1.61,"y":-1.06},
{"p":8,"t":"5tri","x":2.14,"y":2.90},{"p":8,"t":"5tri","x":2.33,"y":2.49},{"p":8,"t":"5tri","x":-3.40,"y":-1.55},
{"p":8,"t":"5tri","x":0.11,"y":1.74},{"p":8,"t":"5tri","x":0.23,"y":1.55},{"p":8,"t":"5tri","x":3.64,"y":3.04},{"p":8,"t":"5tri","x":-3.54,"y":-1.20},{"p":8,"t":"5tri","x":-3.41,"y":-2.20},{"p":8,"t":"5tri","x":-3.08,"y":-3.71},

{"p":9,"t":"1gal","x":3.20,"y":2.75},{"p":9,"t":"1gal","x":3.28,"y":1.94},{"p":9,"t":"1gal","x":2.40,"y":0.47},{"p":9,"t":"1gal","x":-1.15,"y":-1.12},{"p":9,"t":"1gal","x":0.72,"y":-2.92},{"p":9,"t":"1gal","x":2.19,"y":-3.85},
{"p":9,"t":"2mem","x":0.95,"y":0.08},
{"p":9,"t":"4Blue","x":0.10,"y":0.89},{"p":9,"t":"6Tri","x":0.10,"y":0.89},
{"p":9,"t":"5tri","x":1.13,"y":2.39},{"p":9,"t":"5tri","x":-0.04,"y":-2.05},

{"p":10,"t":"1gal","x":-3.51,"y":3.66},{"p":10,"t":"1gal","x":-1.89,"y":3.62},{"p":10,"t":"1gal","x":-1.71,"y":3.55},{"p":10,"t":"1gal","x":-2.06,"y":3.24},{"p":10,"t":"1gal","x":1.56,"y":3.42},{"p":10,"t":"1gal","x":2.27,"y":3.55},{"p":10,"t":"1gal","x":2.39,"y":3.63},{"p":10,"t":"1gal","x":-3.07,"y":3.07},{"p":10,"t":"1gal","x":-2.97,"y":2.64},{"p":10,"t":"1gal","x":-0.90,"y":2.77},
{"p":10,"t":"1gal","x":0.40,"y":2.74},{"p":10,"t":"1gal","x":0.74,"y":2.95},{"p":10,"t":"1gal","x":-2.69,"y":2.02},{"p":10,"t":"1gal","x":-3.66,"y":1.15},{"p":10,"t":"1gal","x":-3.07,"y":0.93},{"p":10,"t":"1gal","x":-3.30,"y":0.59},{"p":10,"t":"1gal","x":-3.01,"y":0.14},{"p":10,"t":"1gal","x":-3.33,"y":-0.08},{"p":10,"t":"1gal","x":-1.99,"y":0.80},{"p":10,"t":"1gal","x":-1.71,"y":0.28},
{"p":10,"t":"1gal","x":-1.47,"y":-0.09},{"p":10,"t":"1gal","x":0.16,"y":1.43},{"p":10,"t":"1gal","x":0.59,"y":1.21},{"p":10,"t":"1gal","x":-0.08,"y":-0.18},{"p":10,"t":"1gal","x":-1.67,"y":-1.88},{"p":10,"t":"1gal","x":0.16,"y":-1.99},{"p":10,"t":"1gal","x":2.32,"y":-3.26},{"p":10,"t":"1gal","x":2.97,"y":-3.09},{"p":10,"t":"1gal","x":-2.05,"y":-3.48},
{"p":10,"t":"2mem","x":-0.10,"y":0.31},{"p":10,"t":"2mem","x":-0.45,"y":0.04},{"p":10,"t":"2mem","x":-0.26,"y":0.08},
{"p":10,"t":"6Tri","x":-0.15,"y":-0.28},
{"p":10,"t":"5tri","x":-1.22,"y":2.74},{"p":10,"t":"5tri","x":0.90,"y":0.37},{"p":10,"t":"5tri","x":2.87,"y":-0.10},{"p":10,"t":"5tri","x":2.90,"y":-0.36},{"p":10,"t":"5tri","x":-3.71,"y":-0.18},
{"p":10,"t":"3blue","x":-0.58,"y":3.47},{"p":10,"t":"3blue","x":-3.09,"y":1.19},

{"p":11,"t":"1gal","x":0.49,"y":3.69},{"p":11,"t":"1gal","x":3.39,"y":3.59},{"p":11,"t":"1gal","x":-1.80,"y":3.46},{"p":11,"t":"1gal","x":-1.71,"y":3.47},{"p":11,"t":"1gal","x":0.47,"y":1.13},{"p":11,"t":"1gal","x":0.29,"y":0.88},{"p":11,"t":"1gal","x":1.26,"y":1.27},{"p":11,"t":"1gal","x":2.75,"y":0.71},{"p":11,"t":"1gal","x":0.51,"y":-0.20},{"p":11,"t":"1gal","x":1.36,"y":-0.36},
{"p":11,"t":"1gal","x":2.25,"y":-0.27},{"p":11,"t":"1gal","x":0.40,"y":-0.70},{"p":11,"t":"1gal","x":0.07,"y":-1.59},{"p":11,"t":"1gal","x":0.25,"y":-1.50},{"p":11,"t":"1gal","x":0.35,"y":-1.48},{"p":11,"t":"1gal","x":-1.36,"y":-2.23},{"p":11,"t":"1gal","x":-1.59,"y":-2.83},{"p":11,"t":"1gal","x":-2.05,"y":-3.04},{"p":11,"t":"1gal","x":0.98,"y":-2.80},{"p":11,"t":"1gal","x":2.66,"y":-2.57},
{"p":11,"t":"1gal","x":2.88,"y":-2.50},{"p":11,"t":"1gal","x":1.70,"y":-2.98},{"p":11,"t":"1gal","x":2.16,"y":-3.39},{"p":11,"t":"1gal","x":1.09,"y":-3.53},{"p":11,"t":"1gal","x":0.66,"y":-3.65},{"p":11,"t":"1gal","x":-2.23,"y":-3.79},
{"p":11,"t":"2mem","x":-0.07,"y":0.09},{"p":11,"t":"2mem","x":-0.15,"y":-0.44},{"p":11,"t":"2mem","x":-0.48,"y":-0.72},{"p":11,"t":"2mem","x":2.06,"y":-3.93},
{"p":11,"t":"4Blue","x":-0.47,"y":1.40},
{"p":11,"t":"6Tri","x":-0.07,"y":0.06},{"p":11,"t":"6Tri","x":-0.48,"y":-0.78},{"p":11,"t":"6Tri","x":-0.47,"y":1.40},
{"p":11,"t":"3blue","x":-1.32,"y":2.72},{"p":11,"t":"3blue","x":-2.12,"y":1.27},{"p":11,"t":"3blue","x":-0.92,"y":2.67},
{"p":11,"t":"5tri","x":-0.92,"y":2.67},{"p":11,"t":"5tri","x":-2.00,"y":3.22},{"p":11,"t":"5tri","x":-2.30,"y":2.74},{"p":11,"t":"5tri","x":-0.29,"y":-0.61},{"p":11,"t":"5tri","x":-1.91,"y":-1.45},{"p":11,"t":"5tri","x":1.63,"y":-3.11},{"p":11,"t":"5tri","x":-1.29,"y":-3.80},

{"p":12,"t":"1gal","x":-2.30,"y":3.30},{"p":12,"t":"1gal","x":-3.85,"y":3.14},{"p":12,"t":"1gal","x":3.61,"y":3.12},{"p":12,"t":"1gal","x":3.74,"y":2.35},{"p":12,"t":"1gal","x":-2.98,"y":0.35},{"p":12,"t":"1gal","x":-0.35,"y":1.35},{"p":12,"t":"1gal","x":-0.06,"y":1.32},{"p":12,"t":"1gal","x":0.58,"y":1.34},{"p":12,"t":"1gal","x":2.94,"y":1.23},{"p":12,"t":"1gal","x":3.01,"y":1.10},
{"p":12,"t":"1gal","x":0.59,"y":0.39},{"p":12,"t":"1gal","x":0.67,"y":0.38},{"p":12,"t":"1gal","x":0.97,"y":0.19},{"p":12,"t":"1gal","x":0.61,"y":0.09},{"p":12,"t":"1gal","x":0.85,"y":0.04},{"p":12,"t":"1gal","x":0.72,"y":-0.21},{"p":12,"t":"1gal","x":0.84,"y":-0.18},{"p":12,"t":"1gal","x":-0.30,"y":-0.21},{"p":12,"t":"1gal","x":-0.21,"y":-0.62},{"p":12,"t":"1gal","x":2.62,"y":0.12},
{"p":12,"t":"1gal","x":3.16,"y":0.17},{"p":12,"t":"1gal","x":0.35,"y":-1.32},{"p":12,"t":"1gal","x":0.84,"y":-1.25},{"p":12,"t":"1gal","x":2.75,"y":-1.33},{"p":12,"t":"1gal","x":3.74,"y":-1.45},{"p":12,"t":"1gal","x":-3.69,"y":-2.10},{"p":12,"t":"1gal","x":0.77,"y":-2.09},{"p":12,"t":"1gal","x":3.11,"y":-2.44},{"p":12,"t":"1gal","x":3.77,"y":-2.26},{"p":12,"t":"1gal","x":-1.94,"y":-3.00},
{"p":12,"t":"1gal","x":-1.80,"y":-3.00},{"p":12,"t":"1gal","x":-1.59,"y":-3.17},{"p":12,"t":"1gal","x":-0.89,"y":-2.84},{"p":12,"t":"1gal","x":1.76,"y":-2.91},
{"p":12,"t":"2mem","x":-0.22,"y":0.34},{"p":12,"t":"2mem","x":-0.07,"y":-0.08},{"p":12,"t":"2mem","x":0.28,"y":-0.61},{"p":12,"t":"2mem","x":0.63,"y":-1.38},{"p":12,"t":"2mem","x":0.49,"y":-1.56},
{"p":12,"t":"4Blue","x":2.02,"y":0.32},{"p":12,"t":"6Tri","x":2.02,"y":0.32},
{"p":12,"t":"3blue","x":3.57,"y":-0.40},{"p":12,"t":"3blue","x":-1.74,"y":-2.78},{"p":12,"t":"3blue","x":1.14,"y":-2.62},
{"p":12,"t":"5tri","x":-1.49,"y":1.42},{"p":12,"t":"5tri","x":2.18,"y":-0.74},{"p":12,"t":"5tri","x":3.22,"y":-1.00},{"p":12,"t":"5tri","x":2.35,"y":-2.92},{"p":12,"t":"5tri","x":-3.81,"y":-0.11},

{"p":13,"t":"1gal","x":-1.52,"y":3.27},{"p":13,"t":"1gal","x":0.06,"y":3.00},{"p":13,"t":"1gal","x":0.74,"y":2.84},{"p":13,"t":"1gal","x":3.29,"y":2.35},{"p":13,"t":"1gal","x":-1.14,"y":1.59},{"p":13,"t":"1gal","x":-0.16,"y":1.30},{"p":13,"t":"1gal","x":0.03,"y":0.97},{"p":13,"t":"1gal","x":-3.02,"y":0.87},{"p":13,"t":"1gal","x":3.45,"y":0.79},{"p":13,"t":"1gal","x":2.82,"y":0.47},
{"p":13,"t":"1gal","x":-0.49,"y":0.27},{"p":13,"t":"1gal","x":-3.52,"y":0.03},{"p":13,"t":"1gal","x":-0.40,"y":-0.45},{"p":13,"t":"1gal","x":-0.83,"y":-0.63},{"p":13,"t":"1gal","x":2.77,"y":-0.40},{"p":13,"t":"1gal","x":-3.70,"y":-0.71},{"p":13,"t":"1gal","x":-3.52,"y":-1.81},{"p":13,"t":"1gal","x":-2.59,"y":-2.28},{"p":13,"t":"1gal","x":-1.66,"y":-2.32},{"p":13,"t":"1gal","x":-0.79,"y":-2.91},
{"p":13,"t":"1gal","x":-1.88,"y":-3.36},{"p":13,"t":"1gal","x":-2.42,"y":-3.72},
{"p":13,"t":"2mem","x":-0.42,"y":2.27},{"p":13,"t":"2mem","x":0.28,"y":1.27},{"p":13,"t":"2mem","x":0.33,"y":0.62},
{"p":13,"t":"3blue","x":-1.76,"y":0.82},{"p":13,"t":"3blue","x":-3.75,"y":-1.90},
{"p":13,"t":"5tri","x":-1.76,"y":0.82},{"p":13,"t":"5tri","x":-3.75,"y":-1.90},{"p":13,"t":"5tri","x":-1.76,"y":2.49},{"p":13,"t":"5tri","x":-3.38,"y":1.64},{"p":13,"t":"5tri","x":0.15,"y":-0.01},{"p":13,"t":"5tri","x":-2.75,"y":-0.73},{"p":13,"t":"5tri","x":-2.31,"y":-2.12}
]
},
"concat": [
{"width":299,"height":259,"layer":[
{"data":{"name":"pts"},"transform":[{"filter":"datum.p==1"}],"mark":{"type":"point","opacity":1,"stroke":"black","strokeWidth":1.3,"clip":true},
"encoding":{"x":{"field":"x","type":"quantitative","scale":{"domain":[-3.89,3.87],"nice":false,"zero":false},"axis":{"orient":"bottom","values":[-3,-2,-1,0,1,2,3],"labels":false,"title":null}},
"y":{"field":"y","type":"quantitative","scale":{"domain":[-3.88,3.88],"nice":false,"zero":false},"axis":{"orient":"left","values":[-3,-2,-1,0,1,2,3],"labels":true,"labelExpr":"''+datum.value","title":null}},
"shape":{"field":"t","type":"nominal","scale":{"domain":["1gal","2mem","3blue","4Blue","5tri","6Tri"],"range":["circle","circle","circle","circle","M0,-1L0.9,0.9L-0.9,0.9Z","M0,-1L0.9,0.9L-0.9,0.9Z"]},"legend":null},
"size":{"field":"t","type":"nominal","scale":{"type":"ordinal","domain":["1gal","2mem","3blue","4Blue","5tri","6Tri"],"range":[18,180,100,470,50,210]},"legend":null},
"fill":{"field":"t","type":"nominal","scale":{"domain":["1gal","2mem","3blue","4Blue","5tri","6Tri"],"range":["white","white","#0000ff","#0000ff","#ff0000","#ff0000"]},"legend":null},
"order":{"field":"t","type":"ordinal"}}},
{"data":{"name":"labels"},"transform":[{"filter":"datum.p==1"}],"mark":{"type":"point","shape":"M1,0A1,0.866,0,0,0,-1,0A1,0.866,0,0,0,1,0Z","size":23750,"filled":false,"stroke":"#ff0000","strokeWidth":3.8,"strokeDash":[21,24],"opacity":1},
"encoding":{"x":{"datum":0,"type":"quantitative","axis":{"orient":"top","values":[-3,-2,-1,0,1,2,3],"labels":false,"title":null}},"y":{"datum":0,"type":"quantitative","axis":{"orient":"right","values":[-3,-2,-1,0,1,2,3],"labels":false,"title":null}}}},
{"data":{"name":"labels"},"transform":[{"filter":"datum.p==1"}],"mark":{"type":"text","align":"left","baseline":"alphabetic","fontSize":22.5,"font":"DejaVu Sans","color":"black","lineBreak":"\n","lineHeight":26.7},
"encoding":{"x":{"datum":-3.52,"type":"quantitative","axis":null},"y":{"datum":2.72,"type":"quantitative","axis":null},"text":{"field":"label","type":"nominal"}}}
],"resolve":{"axis":{"x":"independent","y":"independent"}}},

{"width":299,"height":259,"layer":[
{"data":{"name":"pts"},"transform":[{"filter":"datum.p==2"}],"mark":{"type":"point","opacity":1,"stroke":"black","strokeWidth":1.3,"clip":true},
"encoding":{"x":{"field":"x","type":"quantitative","scale":{"domain":[-3.89,3.87],"nice":false,"zero":false},"axis":{"orient":"bottom","values":[-3,-2,-1,0,1,2,3],"labels":false,"title":null}},
"y":{"field":"y","type":"quantitative","scale":{"domain":[-3.88,3.88],"nice":false,"zero":false},"axis":{"orient":"left","values":[-3,-2,-1,0,1,2,3],"labels":false,"title":null}},
"shape":{"field":"t","type":"nominal","scale":{"domain":["1gal","2mem","3blue","4Blue","5tri","6Tri"],"range":["circle","circle","circle","circle","M0,-1L0.9,0.9L-0.9,0.9Z","M0,-1L0.9,0.9L-0.9,0.9Z"]},"legend":null},
"size":{"field":"t","type":"nominal","scale":{"type":"ordinal","domain":["1gal","2mem","3blue","4Blue","5tri","6Tri"],"range":[18,180,100,470,50,210]},"legend":null},
"fill":{"field":"t","type":"nominal","scale":{"domain":["1gal","2mem","3blue","4Blue","5tri","6Tri"],"range":["white","white","#0000ff","#0000ff","#ff0000","#ff0000"]},"legend":null},
"order":{"field":"t","type":"ordinal"}}},
{"data":{"name":"labels"},"transform":[{"filter":"datum.p==2"}],"mark":{"type":"point","shape":"M1,0A1,0.866,0,0,0,-1,0A1,0.866,0,0,0,1,0Z","size":23750,"filled":false,"stroke":"#ff0000","strokeWidth":3.8,"strokeDash":[21,24],"opacity":1},
"encoding":{"x":{"datum":0,"type":"quantitative","axis":{"orient":"top","values":[-3,-2,-1,0,1,2,3],"labels":false,"title":null}},"y":{"datum":0,"type":"quantitative","axis":{"orient":"right","values":[-3,-2,-1,0,1,2,3],"labels":false,"title":null}}}},
{"data":{"name":"labels"},"transform":[{"filter":"datum.p==2"}],"mark":{"type":"text","align":"left","baseline":"alphabetic","fontSize":22.5,"font":"DejaVu Sans","color":"black","lineBreak":"\n","lineHeight":26.7},
"encoding":{"x":{"datum":-3.52,"type":"quantitative","axis":null},"y":{"datum":2.72,"type":"quantitative","axis":null},"text":{"field":"label","type":"nominal"}}}
],"resolve":{"axis":{"x":"independent","y":"independent"}}},

{"width":299,"height":259,"layer":[
{"data":{"name":"pts"},"transform":[{"filter":"datum.p==3"}],"mark":{"type":"point","opacity":1,"stroke":"black","strokeWidth":1.3,"clip":true},
"encoding":{"x":{"field":"x","type":"quantitative","scale":{"domain":[-3.89,3.87],"nice":false,"zero":false},"axis":{"orient":"bottom","values":[-3,-2,-1,0,1,2,3],"labels":false,"title":null}},
"y":{"field":"y","type":"quantitative","scale":{"domain":[-3.88,3.88],"nice":false,"zero":false},"axis":{"orient":"left","values":[-3,-2,-1,0,1,2,3],"labels":false,"title":null}},
"shape":{"field":"t","type":"nominal","scale":{"domain":["1gal","2mem","3blue","4Blue","5tri","6Tri"],"range":["circle","circle","circle","circle","M0,-1L0.9,0.9L-0.9,0.9Z","M0,-1L0.9,0.9L-0.9,0.9Z"]},"legend":null},
"size":{"field":"t","type":"nominal","scale":{"type":"ordinal","domain":["1gal","2mem","3blue","4Blue","5tri","6Tri"],"range":[18,180,100,470,50,210]},"legend":null},
"fill":{"field":"t","type":"nominal","scale":{"domain":["1gal","2mem","3blue","4Blue","5tri","6Tri"],"range":["white","white","#0000ff","#0000ff","#ff0000","#ff0000"]},"legend":null},
"order":{"field":"t","type":"ordinal"}}},
{"data":{"name":"labels"},"transform":[{"filter":"datum.p==3"}],"mark":{"type":"point","shape":"M1,0A1,0.866,0,0,0,-1,0A1,0.866,0,0,0,1,0Z","size":23750,"filled":false,"stroke":"#ff0000","strokeWidth":3.8,"strokeDash":[21,24],"opacity":1},
"encoding":{"x":{"datum":0,"type":"quantitative","axis":{"orient":"top","values":[-3,-2,-1,0,1,2,3],"labels":false,"title":null}},"y":{"datum":0,"type":"quantitative","axis":{"orient":"right","values":[-3,-2,-1,0,1,2,3],"labels":false,"title":null}}}},
{"data":{"name":"labels"},"transform":[{"filter":"datum.p==3"}],"mark":{"type":"text","align":"left","baseline":"alphabetic","fontSize":22.5,"font":"DejaVu Sans","color":"black","lineBreak":"\n","lineHeight":26.7},
"encoding":{"x":{"datum":-3.52,"type":"quantitative","axis":null},"y":{"datum":2.72,"type":"quantitative","axis":null},"text":{"field":"label","type":"nominal"}}}
],"resolve":{"axis":{"x":"independent","y":"independent"}}},

{"width":299,"height":259,"layer":[
{"data":{"name":"pts"},"transform":[{"filter":"datum.p==4"}],"mark":{"type":"point","opacity":1,"stroke":"black","strokeWidth":1.3,"clip":true},
"encoding":{"x":{"field":"x","type":"quantitative","scale":{"domain":[-3.89,3.87],"nice":false,"zero":false},"axis":{"orient":"bottom","values":[-3,-2,-1,0,1,2,3],"labels":false,"title":null}},
"y":{"field":"y","type":"quantitative","scale":{"domain":[-3.88,3.88],"nice":false,"zero":false},"axis":{"orient":"left","values":[-3,-2,-1,0,1,2,3],"labels":true,"labelExpr":"''+datum.value","title":null}},
"shape":{"field":"t","type":"nominal","scale":{"domain":["1gal","2mem","3blue","4Blue","5tri","6Tri"],"range":["circle","circle","circle","circle","M0,-1L0.9,0.9L-0.9,0.9Z","M0,-1L0.9,0.9L-0.9,0.9Z"]},"legend":null},
"size":{"field":"t","type":"nominal","scale":{"type":"ordinal","domain":["1gal","2mem","3blue","4Blue","5tri","6Tri"],"range":[18,180,100,470,50,210]},"legend":null},
"fill":{"field":"t","type":"nominal","scale":{"domain":["1gal","2mem","3blue","4Blue","5tri","6Tri"],"range":["white","white","#0000ff","#0000ff","#ff0000","#ff0000"]},"legend":null},
"order":{"field":"t","type":"ordinal"}}},
{"data":{"name":"labels"},"transform":[{"filter":"datum.p==4"}],"mark":{"type":"point","shape":"M1,0A1,0.866,0,0,0,-1,0A1,0.866,0,0,0,1,0Z","size":23750,"filled":false,"stroke":"#ff0000","strokeWidth":3.8,"strokeDash":[21,24],"opacity":1},
"encoding":{"x":{"datum":0,"type":"quantitative","axis":{"orient":"top","values":[-3,-2,-1,0,1,2,3],"labels":false,"title":null}},"y":{"datum":0,"type":"quantitative","axis":{"orient":"right","values":[-3,-2,-1,0,1,2,3],"labels":false,"title":null}}}},
{"data":{"name":"labels"},"transform":[{"filter":"datum.p==4"}],"mark":{"type":"text","align":"left","baseline":"alphabetic","fontSize":22.5,"font":"DejaVu Sans","color":"black","lineBreak":"\n","lineHeight":26.7},
"encoding":{"x":{"datum":-3.52,"type":"quantitative","axis":null},"y":{"datum":2.72,"type":"quantitative","axis":null},"text":{"field":"label","type":"nominal"}}}
],"resolve":{"axis":{"x":"independent","y":"independent"}}},

{"width":299,"height":259,"layer":[
{"data":{"name":"pts"},"transform":[{"filter":"datum.p==5"}],"mark":{"type":"point","opacity":1,"stroke":"black","strokeWidth":1.3,"clip":true},
"encoding":{"x":{"field":"x","type":"quantitative","scale":{"domain":[-3.89,3.87],"nice":false,"zero":false},"axis":{"orient":"bottom","values":[-3,-2,-1,0,1,2,3],"labels":false,"title":null}},
"y":{"field":"y","type":"quantitative","scale":{"domain":[-3.88,3.88],"nice":false,"zero":false},"axis":{"orient":"left","values":[-3,-2,-1,0,1,2,3],"labels":false,"title":null}},
"shape":{"field":"t","type":"nominal","scale":{"domain":["1gal","2mem","3blue","4Blue","5tri","6Tri"],"range":["circle","circle","circle","circle","M0,-1L0.9,0.9L-0.9,0.9Z","M0,-1L0.9,0.9L-0.9,0.9Z"]},"legend":null},
"size":{"field":"t","type":"nominal","scale":{"type":"ordinal","domain":["1gal","2mem","3blue","4Blue","5tri","6Tri"],"range":[18,180,100,470,50,210]},"legend":null},
"fill":{"field":"t","type":"nominal","scale":{"domain":["1gal","2mem","3blue","4Blue","5tri","6Tri"],"range":["white","white","#0000ff","#0000ff","#ff0000","#ff0000"]},"legend":null},
"order":{"field":"t","type":"ordinal"}}},
{"data":{"name":"labels"},"transform":[{"filter":"datum.p==5"}],"mark":{"type":"point","shape":"M1,0A1,0.866,0,0,0,-1,0A1,0.866,0,0,0,1,0Z","size":23750,"filled":false,"stroke":"#ff0000","strokeWidth":3.8,"strokeDash":[21,24],"opacity":1},
"encoding":{"x":{"datum":0,"type":"quantitative","axis":{"orient":"top","values":[-3,-2,-1,0,1,2,3],"labels":false,"title":null}},"y":{"datum":0,"type":"quantitative","axis":{"orient":"right","values":[-3,-2,-1,0,1,2,3],"labels":false,"title":null}}}},
{"data":{"name":"labels"},"transform":[{"filter":"datum.p==5"}],"mark":{"type":"text","align":"left","baseline":"alphabetic","fontSize":22.5,"font":"DejaVu Sans","color":"black","lineBreak":"\n","lineHeight":26.7},
"encoding":{"x":{"datum":-3.52,"type":"quantitative","axis":null},"y":{"datum":2.72,"type":"quantitative","axis":null},"text":{"field":"label","type":"nominal"}}}
],"resolve":{"axis":{"x":"independent","y":"independent"}}},

{"width":299,"height":259,"layer":[
{"data":{"name":"pts"},"transform":[{"filter":"datum.p==6"}],"mark":{"type":"point","opacity":1,"stroke":"black","strokeWidth":1.3,"clip":true},
"encoding":{"x":{"field":"x","type":"quantitative","scale":{"domain":[-3.89,3.87],"nice":false,"zero":false},"axis":{"orient":"bottom","values":[-3,-2,-1,0,1,2,3],"labels":false,"title":null}},
"y":{"field":"y","type":"quantitative","scale":{"domain":[-3.88,3.88],"nice":false,"zero":false},"axis":{"orient":"left","values":[-3,-2,-1,0,1,2,3],"labels":false,"title":null}},
"shape":{"field":"t","type":"nominal","scale":{"domain":["1gal","2mem","3blue","4Blue","5tri","6Tri"],"range":["circle","circle","circle","circle","M0,-1L0.9,0.9L-0.9,0.9Z","M0,-1L0.9,0.9L-0.9,0.9Z"]},"legend":null},
"size":{"field":"t","type":"nominal","scale":{"type":"ordinal","domain":["1gal","2mem","3blue","4Blue","5tri","6Tri"],"range":[18,180,100,470,50,210]},"legend":null},
"fill":{"field":"t","type":"nominal","scale":{"domain":["1gal","2mem","3blue","4Blue","5tri","6Tri"],"range":["white","white","#0000ff","#0000ff","#ff0000","#ff0000"]},"legend":null},
"order":{"field":"t","type":"ordinal"}}},
{"data":{"name":"labels"},"transform":[{"filter":"datum.p==6"}],"mark":{"type":"point","shape":"M1,0A1,0.866,0,0,0,-1,0A1,0.866,0,0,0,1,0Z","size":23750,"filled":false,"stroke":"#ff0000","strokeWidth":3.8,"strokeDash":[21,24],"opacity":1},
"encoding":{"x":{"datum":0,"type":"quantitative","axis":{"orient":"top","values":[-3,-2,-1,0,1,2,3],"labels":false,"title":null}},"y":{"datum":0,"type":"quantitative","axis":{"orient":"right","values":[-3,-2,-1,0,1,2,3],"labels":false,"title":null}}}},
{"data":{"name":"labels"},"transform":[{"filter":"datum.p==6"}],"mark":{"type":"text","align":"left","baseline":"alphabetic","fontSize":22.5,"font":"DejaVu Sans","color":"black","lineBreak":"\n","lineHeight":26.7},
"encoding":{"x":{"datum":-3.52,"type":"quantitative","axis":null},"y":{"datum":2.72,"type":"quantitative","axis":null},"text":{"field":"label","type":"nominal"}}}
],"resolve":{"axis":{"x":"independent","y":"independent"}}},

{"width":299,"height":259,"layer":[
{"data":{"name":"pts"},"transform":[{"filter":"datum.p==7"}],"mark":{"type":"point","opacity":1,"stroke":"black","strokeWidth":1.3,"clip":true},
"encoding":{"x":{"field":"x","type":"quantitative","scale":{"domain":[-3.89,3.87],"nice":false,"zero":false},"axis":{"orient":"bottom","values":[-3,-2,-1,0,1,2,3],"labels":false,"title":null}},
"y":{"field":"y","type":"quantitative","scale":{"domain":[-3.88,3.88],"nice":false,"zero":false},"axis":{"orient":"left","values":[-3,-2,-1,0,1,2,3],"labels":true,"labelExpr":"''+datum.value","title":"Dec Offset [arcmin]","titleX":-75,"titleY":127,"titleAngle":270,"titleBaseline":"alphabetic","titleAlign":"center","titleFontSize":53}},
"shape":{"field":"t","type":"nominal","scale":{"domain":["1gal","2mem","3blue","4Blue","5tri","6Tri"],"range":["circle","circle","circle","circle","M0,-1L0.9,0.9L-0.9,0.9Z","M0,-1L0.9,0.9L-0.9,0.9Z"]},"legend":null},
"size":{"field":"t","type":"nominal","scale":{"type":"ordinal","domain":["1gal","2mem","3blue","4Blue","5tri","6Tri"],"range":[18,180,100,470,50,210]},"legend":null},
"fill":{"field":"t","type":"nominal","scale":{"domain":["1gal","2mem","3blue","4Blue","5tri","6Tri"],"range":["white","white","#0000ff","#0000ff","#ff0000","#ff0000"]},"legend":null},
"order":{"field":"t","type":"ordinal"}}},
{"data":{"name":"labels"},"transform":[{"filter":"datum.p==7"}],"mark":{"type":"point","shape":"M1,0A1,0.866,0,0,0,-1,0A1,0.866,0,0,0,1,0Z","size":23750,"filled":false,"stroke":"#ff0000","strokeWidth":3.8,"strokeDash":[21,24],"opacity":1},
"encoding":{"x":{"datum":0,"type":"quantitative","axis":{"orient":"top","values":[-3,-2,-1,0,1,2,3],"labels":false,"title":null}},"y":{"datum":0,"type":"quantitative","axis":{"orient":"right","values":[-3,-2,-1,0,1,2,3],"labels":false,"title":null}}}},
{"data":{"name":"labels"},"transform":[{"filter":"datum.p==7"}],"mark":{"type":"text","align":"left","baseline":"alphabetic","fontSize":22.5,"font":"DejaVu Sans","color":"black","lineBreak":"\n","lineHeight":26.7},
"encoding":{"x":{"datum":-3.52,"type":"quantitative","axis":null},"y":{"datum":2.72,"type":"quantitative","axis":null},"text":{"field":"label","type":"nominal"}}}
],"resolve":{"axis":{"x":"independent","y":"independent"}}},

{"width":299,"height":259,"layer":[
{"data":{"name":"pts"},"transform":[{"filter":"datum.p==8"}],"mark":{"type":"point","opacity":1,"stroke":"black","strokeWidth":1.3,"clip":true},
"encoding":{"x":{"field":"x","type":"quantitative","scale":{"domain":[-3.89,3.87],"nice":false,"zero":false},"axis":{"orient":"bottom","values":[-3,-2,-1,0,1,2,3],"labels":false,"title":null}},
"y":{"field":"y","type":"quantitative","scale":{"domain":[-3.88,3.88],"nice":false,"zero":false},"axis":{"orient":"left","values":[-3,-2,-1,0,1,2,3],"labels":false,"title":null}},
"shape":{"field":"t","type":"nominal","scale":{"domain":["1gal","2mem","3blue","4Blue","5tri","6Tri"],"range":["circle","circle","circle","circle","M0,-1L0.9,0.9L-0.9,0.9Z","M0,-1L0.9,0.9L-0.9,0.9Z"]},"legend":null},
"size":{"field":"t","type":"nominal","scale":{"type":"ordinal","domain":["1gal","2mem","3blue","4Blue","5tri","6Tri"],"range":[18,180,100,470,50,210]},"legend":null},
"fill":{"field":"t","type":"nominal","scale":{"domain":["1gal","2mem","3blue","4Blue","5tri","6Tri"],"range":["white","white","#0000ff","#0000ff","#ff0000","#ff0000"]},"legend":null},
"order":{"field":"t","type":"ordinal"}}},
{"data":{"name":"labels"},"transform":[{"filter":"datum.p==8"}],"mark":{"type":"point","shape":"M1,0A1,0.866,0,0,0,-1,0A1,0.866,0,0,0,1,0Z","size":23750,"filled":false,"stroke":"#ff0000","strokeWidth":3.8,"strokeDash":[21,24],"opacity":1},
"encoding":{"x":{"datum":0,"type":"quantitative","axis":{"orient":"top","values":[-3,-2,-1,0,1,2,3],"labels":false,"title":null}},"y":{"datum":0,"type":"quantitative","axis":{"orient":"right","values":[-3,-2,-1,0,1,2,3],"labels":false,"title":null}}}},
{"data":{"name":"labels"},"transform":[{"filter":"datum.p==8"}],"mark":{"type":"text","align":"left","baseline":"alphabetic","fontSize":22.5,"font":"DejaVu Sans","color":"black","lineBreak":"\n","lineHeight":26.7},
"encoding":{"x":{"datum":-3.52,"type":"quantitative","axis":null},"y":{"datum":2.72,"type":"quantitative","axis":null},"text":{"field":"label","type":"nominal"}}}
],"resolve":{"axis":{"x":"independent","y":"independent"}}},

{"width":299,"height":259,"layer":[
{"data":{"name":"pts"},"transform":[{"filter":"datum.p==9"}],"mark":{"type":"point","opacity":1,"stroke":"black","strokeWidth":1.3,"clip":true},
"encoding":{"x":{"field":"x","type":"quantitative","scale":{"domain":[-3.89,3.87],"nice":false,"zero":false},"axis":{"orient":"bottom","values":[-3,-2,-1,0,1,2,3],"labels":false,"title":null}},
"y":{"field":"y","type":"quantitative","scale":{"domain":[-3.88,3.88],"nice":false,"zero":false},"axis":{"orient":"left","values":[-3,-2,-1,0,1,2,3],"labels":false,"title":null}},
"shape":{"field":"t","type":"nominal","scale":{"domain":["1gal","2mem","3blue","4Blue","5tri","6Tri"],"range":["circle","circle","circle","circle","M0,-1L0.9,0.9L-0.9,0.9Z","M0,-1L0.9,0.9L-0.9,0.9Z"]},"legend":null},
"size":{"field":"t","type":"nominal","scale":{"type":"ordinal","domain":["1gal","2mem","3blue","4Blue","5tri","6Tri"],"range":[18,180,100,470,50,210]},"legend":null},
"fill":{"field":"t","type":"nominal","scale":{"domain":["1gal","2mem","3blue","4Blue","5tri","6Tri"],"range":["white","white","#0000ff","#0000ff","#ff0000","#ff0000"]},"legend":null},
"order":{"field":"t","type":"ordinal"}}},
{"data":{"name":"labels"},"transform":[{"filter":"datum.p==9"}],"mark":{"type":"point","shape":"M1,0A1,0.866,0,0,0,-1,0A1,0.866,0,0,0,1,0Z","size":23750,"filled":false,"stroke":"#ff0000","strokeWidth":3.8,"strokeDash":[21,24],"opacity":1},
"encoding":{"x":{"datum":0,"type":"quantitative","axis":{"orient":"top","values":[-3,-2,-1,0,1,2,3],"labels":false,"title":null}},"y":{"datum":0,"type":"quantitative","axis":{"orient":"right","values":[-3,-2,-1,0,1,2,3],"labels":false,"title":null}}}},
{"data":{"name":"labels"},"transform":[{"filter":"datum.p==9"}],"mark":{"type":"text","align":"left","baseline":"alphabetic","fontSize":22.5,"font":"DejaVu Sans","color":"black","lineBreak":"\n","lineHeight":26.7},
"encoding":{"x":{"datum":-3.52,"type":"quantitative","axis":null},"y":{"datum":2.72,"type":"quantitative","axis":null},"text":{"field":"label","type":"nominal"}}}
],"resolve":{"axis":{"x":"independent","y":"independent"}}},

{"width":299,"height":259,"layer":[
{"data":{"name":"pts"},"transform":[{"filter":"datum.p==10"}],"mark":{"type":"point","opacity":1,"stroke":"black","strokeWidth":1.3,"clip":true},
"encoding":{"x":{"field":"x","type":"quantitative","scale":{"domain":[-3.89,3.87],"nice":false,"zero":false},"axis":{"orient":"bottom","values":[-3,-2,-1,0,1,2,3],"labels":false,"title":null}},
"y":{"field":"y","type":"quantitative","scale":{"domain":[-3.88,3.88],"nice":false,"zero":false},"axis":{"orient":"left","values":[-3,-2,-1,0,1,2,3],"labels":true,"labelExpr":"''+datum.value","title":null}},
"shape":{"field":"t","type":"nominal","scale":{"domain":["1gal","2mem","3blue","4Blue","5tri","6Tri"],"range":["circle","circle","circle","circle","M0,-1L0.9,0.9L-0.9,0.9Z","M0,-1L0.9,0.9L-0.9,0.9Z"]},"legend":null},
"size":{"field":"t","type":"nominal","scale":{"type":"ordinal","domain":["1gal","2mem","3blue","4Blue","5tri","6Tri"],"range":[18,180,100,470,50,210]},"legend":null},
"fill":{"field":"t","type":"nominal","scale":{"domain":["1gal","2mem","3blue","4Blue","5tri","6Tri"],"range":["white","white","#0000ff","#0000ff","#ff0000","#ff0000"]},"legend":null},
"order":{"field":"t","type":"ordinal"}}},
{"data":{"name":"labels"},"transform":[{"filter":"datum.p==10"}],"mark":{"type":"point","shape":"M1,0A1,0.866,0,0,0,-1,0A1,0.866,0,0,0,1,0Z","size":23750,"filled":false,"stroke":"#ff0000","strokeWidth":3.8,"strokeDash":[21,24],"opacity":1},
"encoding":{"x":{"datum":0,"type":"quantitative","axis":{"orient":"top","values":[-3,-2,-1,0,1,2,3],"labels":false,"title":null}},"y":{"datum":0,"type":"quantitative","axis":{"orient":"right","values":[-3,-2,-1,0,1,2,3],"labels":false,"title":null}}}},
{"data":{"name":"labels"},"transform":[{"filter":"datum.p==10"}],"mark":{"type":"text","align":"left","baseline":"alphabetic","fontSize":22.5,"font":"DejaVu Sans","color":"black","lineBreak":"\n","lineHeight":26.7},
"encoding":{"x":{"datum":-3.52,"type":"quantitative","axis":null},"y":{"datum":2.72,"type":"quantitative","axis":null},"text":{"field":"label","type":"nominal"}}}
],"resolve":{"axis":{"x":"independent","y":"independent"}}},

{"width":299,"height":259,"layer":[
{"data":{"name":"pts"},"transform":[{"filter":"datum.p==11"}],"mark":{"type":"point","opacity":1,"stroke":"black","strokeWidth":1.3,"clip":true},
"encoding":{"x":{"field":"x","type":"quantitative","scale":{"domain":[-3.89,3.87],"nice":false,"zero":false},"axis":{"orient":"bottom","values":[-3,-2,-1,0,1,2,3],"labels":true,"labelExpr":"''+datum.value","title":"RA Offset [arcmin]","titleX":153,"titleY":357,"titleAngle":0,"titleBaseline":"alphabetic","titleAlign":"center","titleFontSize":53.5}},
"y":{"field":"y","type":"quantitative","scale":{"domain":[-3.88,3.88],"nice":false,"zero":false},"axis":{"orient":"left","values":[-3,-2,-1,0,1,2,3],"labels":false,"title":null}},
"shape":{"field":"t","type":"nominal","scale":{"domain":["1gal","2mem","3blue","4Blue","5tri","6Tri"],"range":["circle","circle","circle","circle","M0,-1L0.9,0.9L-0.9,0.9Z","M0,-1L0.9,0.9L-0.9,0.9Z"]},"legend":null},
"size":{"field":"t","type":"nominal","scale":{"type":"ordinal","domain":["1gal","2mem","3blue","4Blue","5tri","6Tri"],"range":[18,180,100,470,50,210]},"legend":null},
"fill":{"field":"t","type":"nominal","scale":{"domain":["1gal","2mem","3blue","4Blue","5tri","6Tri"],"range":["white","white","#0000ff","#0000ff","#ff0000","#ff0000"]},"legend":null},
"order":{"field":"t","type":"ordinal"}}},
{"data":{"name":"labels"},"transform":[{"filter":"datum.p==11"}],"mark":{"type":"point","shape":"M1,0A1,0.866,0,0,0,-1,0A1,0.866,0,0,0,1,0Z","size":23750,"filled":false,"stroke":"#ff0000","strokeWidth":3.8,"strokeDash":[21,24],"opacity":1},
"encoding":{"x":{"datum":0,"type":"quantitative","axis":{"orient":"top","values":[-3,-2,-1,0,1,2,3],"labels":false,"title":null}},"y":{"datum":0,"type":"quantitative","axis":{"orient":"right","values":[-3,-2,-1,0,1,2,3],"labels":false,"title":null}}}},
{"data":{"name":"labels"},"transform":[{"filter":"datum.p==11"}],"mark":{"type":"text","align":"left","baseline":"alphabetic","fontSize":22.5,"font":"DejaVu Sans","color":"black","lineBreak":"\n","lineHeight":26.7},
"encoding":{"x":{"datum":-3.52,"type":"quantitative","axis":null},"y":{"datum":2.72,"type":"quantitative","axis":null},"text":{"field":"label","type":"nominal"}}}
],"resolve":{"axis":{"x":"independent","y":"independent"}}},

{"width":299,"height":259,"layer":[
{"data":{"name":"pts"},"transform":[{"filter":"datum.p==12"}],"mark":{"type":"point","opacity":1,"stroke":"black","strokeWidth":1.3,"clip":true},
"encoding":{"x":{"field":"x","type":"quantitative","scale":{"domain":[-3.89,3.87],"nice":false,"zero":false},"axis":{"orient":"bottom","values":[-3,-2,-1,0,1,2,3],"labels":true,"labelExpr":"''+datum.value","title":null}},
"y":{"field":"y","type":"quantitative","scale":{"domain":[-3.88,3.88],"nice":false,"zero":false},"axis":{"orient":"left","values":[-3,-2,-1,0,1,2,3],"labels":false,"title":null}},
"shape":{"field":"t","type":"nominal","scale":{"domain":["1gal","2mem","3blue","4Blue","5tri","6Tri"],"range":["circle","circle","circle","circle","M0,-1L0.9,0.9L-0.9,0.9Z","M0,-1L0.9,0.9L-0.9,0.9Z"]},"legend":null},
"size":{"field":"t","type":"nominal","scale":{"type":"ordinal","domain":["1gal","2mem","3blue","4Blue","5tri","6Tri"],"range":[18,180,100,470,50,210]},"legend":null},
"fill":{"field":"t","type":"nominal","scale":{"domain":["1gal","2mem","3blue","4Blue","5tri","6Tri"],"range":["white","white","#0000ff","#0000ff","#ff0000","#ff0000"]},"legend":null},
"order":{"field":"t","type":"ordinal"}}},
{"data":{"name":"labels"},"transform":[{"filter":"datum.p==12"}],"mark":{"type":"point","shape":"M1,0A1,0.866,0,0,0,-1,0A1,0.866,0,0,0,1,0Z","size":23750,"filled":false,"stroke":"#ff0000","strokeWidth":3.8,"strokeDash":[21,24],"opacity":1},
"encoding":{"x":{"datum":0,"type":"quantitative","axis":{"orient":"top","values":[-3,-2,-1,0,1,2,3],"labels":false,"title":null}},"y":{"datum":0,"type":"quantitative","axis":{"orient":"right","values":[-3,-2,-1,0,1,2,3],"labels":false,"title":null}}}},
{"data":{"name":"labels"},"transform":[{"filter":"datum.p==12"}],"mark":{"type":"text","align":"left","baseline":"alphabetic","fontSize":22.5,"font":"DejaVu Sans","color":"black","lineBreak":"\n","lineHeight":26.7},
"encoding":{"x":{"datum":-3.52,"type":"quantitative","axis":null},"y":{"datum":2.72,"type":"quantitative","axis":null},"text":{"field":"label","type":"nominal"}}}
],"resolve":{"axis":{"x":"independent","y":"independent"}}},

{"width":299,"height":259,"layer":[
{"data":{"name":"pts"},"transform":[{"filter":"datum.p==13"}],"mark":{"type":"point","opacity":1,"stroke":"black","strokeWidth":1.3,"clip":true},
"encoding":{"x":{"field":"x","type":"quantitative","scale":{"domain":[-3.89,3.87],"nice":false,"zero":false},"axis":{"orient":"bottom","values":[-3,-2,-1,0,1,2,3],"labels":true,"labelExpr":"''+datum.value","title":null}},
"y":{"field":"y","type":"quantitative","scale":{"domain":[-3.88,3.88],"nice":false,"zero":false},"axis":{"orient":"left","values":[-3,-2,-1,0,1,2,3],"labels":true,"labelExpr":"''+datum.value","title":null}},
"shape":{"field":"t","type":"nominal","scale":{"domain":["1gal","2mem","3blue","4Blue","5tri","6Tri"],"range":["circle","circle","circle","circle","M0,-1L0.9,0.9L-0.9,0.9Z","M0,-1L0.9,0.9L-0.9,0.9Z"]},"legend":null},
"size":{"field":"t","type":"nominal","scale":{"type":"ordinal","domain":["1gal","2mem","3blue","4Blue","5tri","6Tri"],"range":[18,180,100,470,50,210]},"legend":null},
"fill":{"field":"t","type":"nominal","scale":{"domain":["1gal","2mem","3blue","4Blue","5tri","6Tri"],"range":["white","white","#0000ff","#0000ff","#ff0000","#ff0000"]},"legend":null},
"order":{"field":"t","type":"ordinal"}}},
{"data":{"name":"labels"},"transform":[{"filter":"datum.p==13"}],"mark":{"type":"point","shape":"M1,0A1,0.866,0,0,0,-1,0A1,0.866,0,0,0,1,0Z","size":23750,"filled":false,"stroke":"#ff0000","strokeWidth":3.8,"strokeDash":[21,24],"opacity":1},
"encoding":{"x":{"datum":0,"type":"quantitative","axis":{"orient":"top","values":[-3,-2,-1,0,1,2,3],"labels":false,"title":null}},"y":{"datum":0,"type":"quantitative","axis":{"orient":"right","values":[-3,-2,-1,0,1,2,3],"labels":false,"title":null}}}},
{"data":{"name":"labels"},"transform":[{"filter":"datum.p==13"}],"mark":{"type":"text","align":"left","baseline":"alphabetic","fontSize":22.5,"font":"DejaVu Sans","color":"black","lineBreak":"\n","lineHeight":26.7},
"encoding":{"x":{"datum":-3.52,"type":"quantitative","axis":null},"y":{"datum":2.72,"type":"quantitative","axis":null},"text":{"field":"label","type":"nominal"}}}
],"resolve":{"axis":{"x":"independent","y":"independent"}}}
],
"config": {
"view": {"stroke": "black", "strokeWidth": 3},
"axis": {"domain": false, "grid": false, "tickSize": -7, "tickWidth": 1.3, "tickColor": "black", "labelFont": "DejaVu Sans", "labelFontSize": 25, "labelColor": "black", "labelPadding": 14, "labelFlush": false, "labelOverlap": false, "titleFont": "DejaVu Sans", "titleFontWeight": "normal", "titleColor": "black", "titleFontSize": 52},
"axisBottom": {"labelPadding": 23}
}
}
